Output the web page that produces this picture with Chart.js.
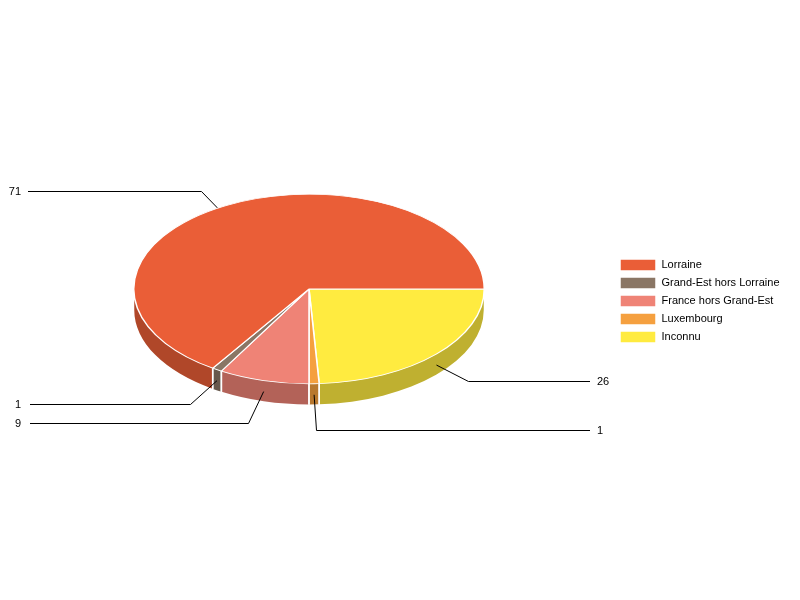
<!DOCTYPE html>
<html><head><meta charset="utf-8">
<style>html,body{margin:0;padding:0;background:#fff}canvas{display:block}</style>
<script src="https://cdn.jsdelivr.net/npm/chart.js@4"></script>
</head><body><canvas id="c" width="800" height="600"></canvas>
<script>
const categories = ["Lorraine","Grand-Est hors Lorraine","France hors Grand-Est","Luxembourg","Inconnu"];
const values = [71,1,9,1,26];
const colors = ["#EA5E37","#8A7665","#EF8376","#F5A03F","#FFEB40"];
const wallColors = ["#B04729","#67584C","#B36258","#B8782F","#BFB030"];

const FONT = '11px "Liberation Sans", Arial, sans-serif';
const SQUASH = 0.541, DEPTH = 21;
// label geometry: elbow offset from the anchor (dx) / row (y), line end x, label text x
const leaders = [
  {dx:-25, y:191, endX:28,  textX:21,  align:'right'},
  {dx:-27, y:404, endX:30,  textX:21,  align:'right'},
  {dx:-16, y:423, endX:30,  textX:21,  align:'right'},
  {dx:2,   y:430, endX:590, textX:597, align:'left'},
  {dx:32,  y:381, endX:590, textX:597, align:'left'}
];

const pie3d = {
  id:'pie3d',
  afterLayout(chart){
    const a = chart.chartArea;
    a.left=133; a.right=485; a.top=113; a.bottom=465; a.width=352; a.height=352;
    const l = chart.legend;
    const w = l.right-l.left, h = l.bottom-l.top;
    l.left = 614; l.right = 614+w;
    l.top = 301-h/2; l.bottom = l.top+h;
  },
  beforeDatasetsDraw(chart){
    const ctx = chart.ctx;
    const arcs = chart.getDatasetMeta(0).data;
    const n = arcs.length;
    const cx = arcs[0].x, cy = arcs[0].y, R = arcs[0].outerRadius, ry = R*SQUASH;
    // side walls
    arcs.forEach((arc,i)=>{
      const idx = n-1-i;
      const a0 = Math.max(arc.startAngle,0), a1 = Math.min(arc.endAngle,Math.PI);
      if (a1<=a0) return;
      ctx.beginPath();
      ctx.ellipse(cx,cy,R-.5,ry-.3,0,a0,a1);
      ctx.ellipse(cx,cy+DEPTH,R-.5,ry-.3,0,a1,a0,true);
      ctx.closePath();
      ctx.fillStyle = wallColors[idx];
      ctx.fill();
    });
    ctx.strokeStyle='#fff'; ctx.lineWidth=1.5;
    arcs.forEach(arc=>{
      [arc.startAngle,arc.endAngle].forEach(t=>{
        if (t<=0.001||t>=Math.PI-0.001) return;
        const x=cx+R*Math.cos(t), y=cy+ry*Math.sin(t);
        ctx.beginPath(); ctx.moveTo(x,y); ctx.lineTo(x,y+DEPTH); ctx.stroke();
      });
    });
    // leader lines and value labels
    ctx.font = FONT; ctx.textBaseline='middle';
    arcs.forEach((arc,i)=>{
      const idx=n-1-i, L=leaders[idx];
      const m=(arc.startAngle+arc.endAngle)/2;
      const ax=cx+R*Math.cos(m), ay=cy+ry*Math.sin(m)+11;
      ctx.strokeStyle='#000'; ctx.lineWidth=1;
      ctx.beginPath();
      ctx.moveTo(ax,ay);
      ctx.lineTo(Math.round(ax+L.dx)+.5,L.y+.5);
      ctx.lineTo(L.endX,L.y+.5);
      ctx.stroke();
      ctx.fillStyle='#000';
      ctx.textAlign = L.align;
      ctx.fillText(String(values[idx]), L.textX, L.y+.5);
    });
    ctx.save();
    ctx.translate(cx,cy); ctx.scale(1,SQUASH); ctx.translate(-cx,-cy);
  },
  afterDatasetsDraw(chart){ chart.ctx.restore(); }
};

new Chart(document.getElementById('c'),{
  type:'pie',
  plugins:[pie3d],
  data:{
    labels:[...categories].reverse(),
    datasets:[{
      data:[...values].reverse(),
      backgroundColor:[...colors].reverse(),
      borderColor:'#fff',
      borderWidth:1.5
    }]
  },
  options:{
    responsive:false,
    animation:false,
    rotation:90,
    events:[],
    layout:{padding:0},
    plugins:{
      tooltip:{enabled:false},
      title:{display:false},
      legend:{
        display:true,
        position:'right',
        reverse:true,
        labels:{
          boxWidth:36,boxHeight:12,padding:6,
          color:'#000',
          font:{family:'"Liberation Sans", Arial, sans-serif',size:11}
        }
      }
    }
  }
});
</script></body></html>
